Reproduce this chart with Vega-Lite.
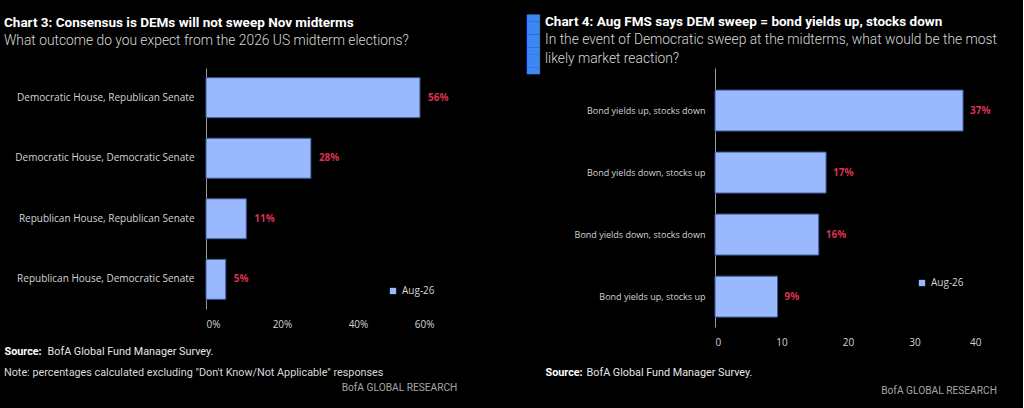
{
  "$schema": "https://vega.github.io/schema/vega-lite/v6.json",
  "background": "#000000",
  "padding": {"left": 4, "top": 14, "right": 26, "bottom": 12},
  "spacing": 70,
  "resolve": {"scale": {"color": "independent"}, "legend": {"color": "independent"}},
  "config": {
    "view": {"stroke": null},
    "font": "Roboto",
    "axis": {"grid": false, "ticks": false, "labelColor": "#d4d4d4", "titleColor": "#e6e6e6"},
    "title": {"color": "#ffffff", "subtitleColor": "#d9d9d9"},
    "legend": {"symbolType": "square", "symbolSize": 40, "labelColor": "#d4d4d4", "labelFont": "Open Sans", "labelFontSize": 10, "symbolStrokeWidth": 0}
  },
  "datasets": {
    "outcome": [
      {"outcome": "Democratic House, Republican Senate", "share": 0.563},
      {"outcome": "Democratic House, Democratic Senate", "share": 0.276},
      {"outcome": "Republican House, Republican Senate", "share": 0.106},
      {"outcome": "Republican House, Democratic Senate", "share": 0.052}
    ],
    "reaction": [
      {"reaction": "Bond yields up, stocks down", "value": 37.3, "label": "37%"},
      {"reaction": "Bond yields down, stocks up", "value": 16.7, "label": "17%"},
      {"reaction": "Bond yields down, stocks down", "value": 15.6, "label": "16%"},
      {"reaction": "Bond yields up, stocks up", "value": 9.4, "label": "9%"}
    ]
  },
  "hconcat": [
    {
      "title": {"text": "BofA GLOBAL RESEARCH", "orient": "bottom", "anchor": "end", "frame": "bounds", "font": "Roboto", "fontSize": 10.2, "fontWeight": "normal", "color": "#a6a6a6", "offset": 5, "dx": 9},
      "vconcat": [
        {
          "title": {"text": "Note: percentages calculated excluding \"Don't Know/Not Applicable\" responses", "orient": "bottom", "anchor": "start", "frame": "bounds", "font": "Roboto", "fontSize": 10.8, "fontWeight": "normal", "color": "#d9d9d9", "offset": 11},
          "vconcat": [
            {
              "width": 228,
              "height": 241,
              "data": {"name": "outcome"},
              "title": {"text": "Chart 3: Consensus is DEMs will not sweep Nov midterms", "subtitle": "What outcome do you expect from the 2026 US midterm elections?", "anchor": "start", "frame": "bounds", "font": "Roboto", "fontSize": 13.5, "fontWeight": "bold", "subtitleFont": "Roboto", "subtitleFontSize": 13.8, "subtitleFontWeight": 300, "subtitlePadding": 5, "subtitleLineHeight": 19, "offset": 20},
              "encoding": {
                "y": {"field": "outcome", "type": "nominal", "sort": null, "scale": {"paddingInner": 0.34, "paddingOuter": 0.16},
                  "axis": {"title": "Source:", "titleAngle": 0, "titleX": -202, "titleY": 286, "titleAlign": "left", "titleBaseline": "alphabetic", "titleFontWeight": "bold", "titleFontSize": 10.8, "titleColor": "#ffffff", "labelFont": "Open Sans", "labelFontSize": 10, "labelPadding": 12, "labelLimit": 300, "domainColor": "#9a9a9a"}},
                "x": {"field": "share", "type": "quantitative", "scale": {"domain": [0, 0.6]},
                  "axis": {"values": [0, 0.2, 0.4, 0.6], "format": ".0%", "domain": false, "labelPadding": 10, "labelFont": "Open Sans", "labelFontSize": 10, "title": "BofA Global Fund Manager Survey.", "titleX": -159, "titleY": 45, "titleAnchor": "start", "titleAlign": "left", "titleBaseline": "alphabetic", "titleFontWeight": "normal", "titleFontSize": 10.8}}
              },
              "layer": [
                {"mark": {"type": "bar", "stroke": "#3d5c99", "strokeWidth": 1},
                 "encoding": {"color": {"datum": "Aug-26", "scale": {"range": ["#99b8fd"]}, "legend": {"title": null, "orient": "none", "legendX": 182, "legendY": 218}}}},
                {"mark": {"type": "text", "align": "left", "baseline": "middle", "dx": 8, "font": "Open Sans", "fontWeight": "bold", "fontSize": 10, "color": "#d8334f"},
                 "encoding": {"text": {"field": "share", "format": ".0%"}}}
              ]
            }
          ]
        }
      ]
    },
    {
      "title": {"text": "BofA GLOBAL RESEARCH", "orient": "bottom", "anchor": "end", "frame": "bounds", "font": "Roboto", "fontSize": 10.2, "fontWeight": "normal", "color": "#a6a6a6", "offset": 9},
      "vconcat": [
        {
          "title": {"text": "█████████", "orient": "left", "anchor": "end", "frame": "bounds", "font": "DejaVu Sans Mono", "fontSize": 11, "color": "#3b87f5", "offset": 6},
          "vconcat": [
            {
              "width": 266,
              "height": 259,
              "data": {"name": "reaction"},
              "title": {"text": "Chart 4: Aug FMS says DEM sweep = bond yields up, stocks down", "subtitle": ["In the event of Democratic sweep at the midterms, what would be the most", "likely market reaction?"], "anchor": "start", "frame": "bounds", "font": "Roboto", "fontSize": 13.5, "fontWeight": "bold", "subtitleFont": "Roboto", "subtitleFontSize": 13.8, "subtitleFontWeight": 300, "subtitlePadding": 5, "subtitleLineHeight": 19, "offset": 2},
              "encoding": {
                "y": {"field": "reaction", "type": "nominal", "sort": null, "scale": {"paddingInner": 0.34, "paddingOuter": 0.258, "align": 0.69},
                  "axis": {"title": "Source:", "titleAngle": 0, "titleX": -170, "titleY": 307, "titleAlign": "left", "titleBaseline": "alphabetic", "titleFontWeight": "bold", "titleFontSize": 10.8, "titleColor": "#ffffff", "labelFont": "Open Sans", "labelFontSize": 9, "labelPadding": 10, "labelLimit": 300, "domainColor": "#9a9a9a"}},
                "x": {"field": "value", "type": "quantitative", "scale": {"domain": [0, 40]},
                  "axis": {"values": [0, 10, 20, 30, 40], "format": "d", "domain": false, "labelPadding": 10, "labelFont": "Open Sans", "labelFontSize": 10, "title": "BofA Global Fund Manager Survey.", "titleX": -129, "titleY": 48, "titleAnchor": "start", "titleAlign": "left", "titleBaseline": "alphabetic", "titleFontWeight": "normal", "titleFontSize": 10.8}}
              },
              "layer": [
                {"mark": {"type": "bar", "stroke": "#3d5c99", "strokeWidth": 1},
                 "encoding": {"color": {"datum": "Aug-26", "scale": {"range": ["#99b8fd"]}, "legend": {"title": null, "orient": "none", "legendX": 202, "legendY": 210}}}},
                {"mark": {"type": "text", "align": "left", "baseline": "middle", "dx": 7, "font": "Open Sans", "fontWeight": "bold", "fontSize": 10, "color": "#d8334f"},
                 "encoding": {"text": {"field": "label"}}}
              ]
            }
          ]
        }
      ]
    }
  ]
}
